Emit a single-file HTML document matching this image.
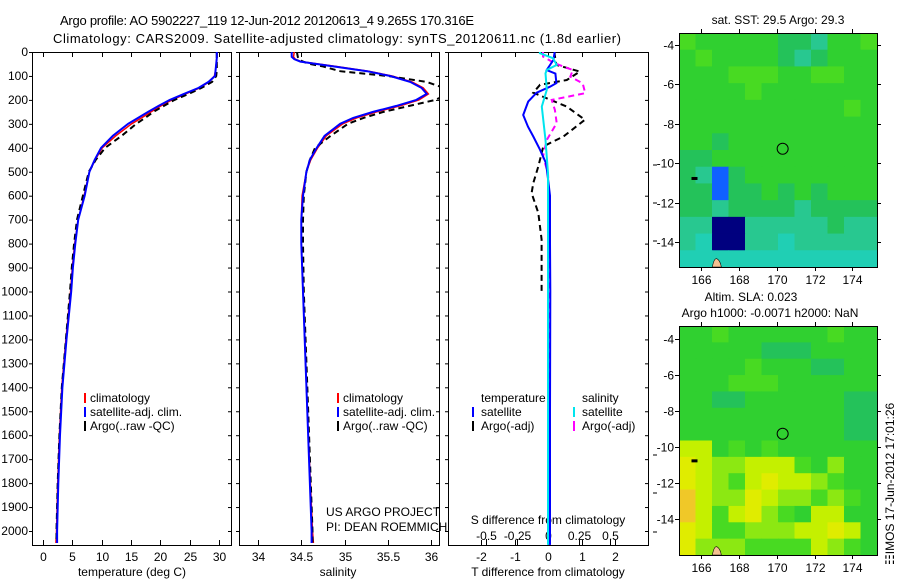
<!DOCTYPE html>
<html><head><meta charset="utf-8"><style>
html,body{margin:0;padding:0;background:#fff;}
svg{display:block;font-family:"Liberation Sans",sans-serif;}
text{font-size:12px;fill:#000;}
</style></head><body>
<svg id="fig" width="900" height="580" viewBox="0 0 900 580">
<text x="60" y="25" style="font-size:13px" textLength="414">Argo profile: AO 5902227_119 12-Jun-2012 20120613_4 9.265S 170.316E</text>
<text x="53" y="43" style="font-size:13px" textLength="568">Climatology: CARS2009. Satellite-adjusted climatology: synTS_20120611.nc (1.8d earlier)</text>
<text x="778" y="24" text-anchor="middle">sat. SST: 29.5 Argo: 29.3</text>
<text x="751" y="301" text-anchor="middle">Altim. SLA: 0.023</text>
<text x="770" y="317" text-anchor="middle">Argo h1000: -0.0071 h2000: NaN</text>
<text transform="translate(894,565) rotate(-90)">&#9783;IMOS 17-Jun-2012 17:01:26</text>
<text x="326" y="516">US ARGO PROJECT</text>
<text x="326" y="531">PI: DEAN ROEMMICH</text>
</svg>
<script>
// ---- data ----
const depthTicks = [0,100,200,300,400,500,600,700,800,900,1000,1100,1200,1300,1400,1500,1600,1700,1800,1900,2000];
const tDepths = [0,25,50,75,100,125,150,175,200,225,250,275,300,350,400,450,500,600,700,800,900,1000,1200,1400,1600,1800,2000,2050];
const tempSat  = [29.6,29.6,29.5,29.4,29.3,28.2,26.5,24.0,21.6,19.7,17.9,16.2,14.5,11.9,9.9,8.8,7.9,7.1,6.0,5.5,5.1,4.8,4.0,3.3,2.9,2.6,2.4,2.4];
const tempClim = [29.6,29.6,29.5,29.4,29.2,28.3,26.7,24.3,22.0,20.1,18.4,16.8,15.1,12.4,10.1,8.9,7.9,7.0,6.0,5.4,5.0,4.7,3.9,3.2,2.8,2.5,2.3,2.2];
const tempArgo = [29.6,29.6,29.6,29.6,29.5,28.8,27.0,24.8,22.4,20.6,18.8,17.4,15.9,13.4,10.6,9.0,7.8,6.8,5.8,5.3,4.9,4.6,3.9,3.2,2.8,2.5,2.3,2.3];
const sDepths = [0,20,30,40,50,60,80,100,125,150,175,200,225,250,275,300,350,400,450,500,600,700,800,1000,1500,2000,2050];
const salSat  = [34.39,34.39,34.42,34.49,34.68,34.87,35.26,35.53,35.76,35.89,35.95,35.83,35.6,35.33,35.1,34.95,34.77,34.68,34.6,34.56,34.52,34.5,34.5,34.52,34.57,34.62,34.62];
const salClim = [34.42,34.41,34.43,34.5,34.7,34.9,35.28,35.55,35.78,35.91,35.97,35.86,35.64,35.37,35.14,34.98,34.79,34.69,34.61,34.56,34.51,34.5,34.5,34.52,34.57,34.63,34.64];
const salArgo = [34.45,34.46,34.47,34.52,34.6,34.75,34.95,35.5,35.95,36.15,36.2,36.05,35.75,35.45,35.22,35.04,34.84,34.66,34.6,34.56,34.53,34.52,34.52,34.53,34.58,34.63,34.63];
const dTSatDepths = [0,33,75,90,130,145,170,207,263,311,353,408,464,505,600,800,1000,1500,2058];
const dTSat = [0.2,0.16,-0.04,0.22,0.25,0.06,-0.34,-0.59,-0.74,-0.6,-0.44,-0.24,-0.06,-0.02,0.06,0.06,0.07,0.06,0.06];
const dTArgoDepths = [0,12,54,82,117,137,170,228,283,353,394,478,547,589,672,783,1005];
const dTArgo = [0.2,0.2,0.25,0.95,0.56,-0.24,-0.44,0.56,1.1,0.46,-0.14,-0.29,-0.44,-0.49,-0.29,-0.19,-0.19];
const dSSatDepths = [0,5,26,54,75,89,158,228,367,506,1000,2058];
const dSSat = [-0.065,-0.065,0.04,0.07,-0.01,-0.02,-0.01,-0.05,-0.02,0.0,0.0,0.0];
const dSArgoDepths = [0,19,47,75,103,131,172,200,242,297,367,436,506,700,1000,2058];
const dSArgo = [-0.04,-0.04,0.056,0.2,0.18,0.28,0.3,0.03,0.056,0.07,-0.01,-0.04,0.0,0.016,0.016,0.016];
const tempTicks = [0,5,10,15,20,25,30];
const salTicks = [34,34.5,35,35.5,36];
const salTickLabels = ["34","34.5","35","35.5","36"];
const dTTicks = [-2,-1,0,1,2];
const dSTicks = [-0.5,-0.25,0,0.25,0.5];
const dSTickLabels = ["-0.5","-0.25","0","0.25","0.5"];
const lonTicks = [166,168,170,172,174];
const latTicks = [-4,-6,-8,-10,-12,-14];
const sstGrid = ["766666554667","676666545666","666777667766","666676666666","666666666676","666666666666","665666666666","556666666666","541566666666","551556565666","554555545555","440044444544","430044344444","333333333333"];
const slaGrid = ["667666666766","666665556666","666676665566","666777666666","665566666655","666666666655","666666666655","996767666666","a98899976866","a9879a998766","b988a9887876","b979a8769966","a97788899a96","a88877779876"];
const argoLon = 170.316, argoLat = -9.265;

// ---- helpers ----
const NS="http://www.w3.org/2000/svg";
const svg=document.getElementById('fig');
function mk(tag,attrs,parent){const e=document.createElementNS(NS,tag);for(const k in attrs)e.setAttribute(k,attrs[k]);(parent||svg).appendChild(e);return e;}
const TOP=52,BOT=545;
const yD=d=>TOP+d*0.2395;
const xT=t=>43+t*5.87;
const xS=s=>258+(s-34)*86.5;
const xdT=t=>548+t*33.5;
const xdS=s=>548+s*124;
function line(xs,ds,fx,col,w,dash,clip,name){
  let p=ds.map((d,i)=>(i?'L':'M')+fx(xs[i]).toFixed(1)+','+yD(d).toFixed(1)).join('');
  const e=mk('path',{d:p,fill:'none',stroke:col,'stroke-width':w,'clip-path':'url(#'+clip+')'});
  if(dash)e.setAttribute('stroke-dasharray',dash);
  
  
}
const defs=mk('defs',{});
function panel(id,x0,x1,y0,y1){
  const cp=mk('clipPath',{id:id},defs);mk('rect',{x:x0,y:y0,width:x1-x0,height:y1-y0},cp);
}
panel('c1',32,231,TOP,BOT);panel('c2',239,439,TOP,BOT);panel('c3',448,648,TOP,BOT);

// ---- profile panels ----
const panels=[[32,231,'temperature-panel'],[239,439,'salinity-panel'],[448,648,'difference-panel']];
panels.forEach(p=>{
  const r=mk('rect',{x:p[0]+0.5,y:TOP+0.5,width:p[1]-p[0],height:BOT-TOP,fill:'none',stroke:'#000','stroke-width':1});
  
  
  depthTicks.forEach(d=>{const y=yD(d)+0.5;
    mk('line',{x1:p[0]-3,x2:p[0]+1,y1:y,y2:y,stroke:'#000'});
    mk('line',{x1:p[1]-3,x2:p[1]+1,y1:y,y2:y,stroke:'#000'});});
});
depthTicks.forEach(d=>{const t=mk('text',{x:28,y:yD(d)+4,'text-anchor':'end'});t.textContent=d;
  
  });
function xticks(vals,labels,fx,ly,name,inBottom){
  vals.forEach((v,i)=>{const x=Math.round(fx(v))+0.5;
    mk('line',{x1:x,x2:x,y1:TOP,y2:TOP+5,stroke:'#000'});
    mk('line',{x1:x,x2:x,y1:BOT-5,y2:BOT,stroke:'#000'});
    const t=mk('text',{x:x,y:ly,'text-anchor':'middle'});t.textContent=labels[i];
    
    });
}
xticks(tempTicks,tempTicks,xT,561,'temperature-tick-label');
xticks(salTicks,salTickLabels,xS,561,'salinity-tick-label');
xticks(dTTicks,dTTicks,xdT,561,'t-diff-tick-label');
dSTicks.forEach((v,i)=>{const x=Math.round(xdS(v))+0.5;
  mk('line',{x1:x,x2:x,y1:BOT-6,y2:BOT,stroke:'#000'});
  const t=mk('text',{x:x,y:540,'text-anchor':'middle'});t.textContent=dSTickLabels[i];
  
  });
[165,203,241,455,493,532].forEach(y=>mk('line',{x1:653,x2:657,y1:y,y2:y,stroke:'#000'}));
function label(x,y,s,name,anchor){const t=mk('text',{x:x,y:y,'text-anchor':anchor||'middle'});t.textContent=s;
  
  return t;}
label(132,576,'temperature (deg C)','temperature-axis-title');
label(338,576,'salinity','salinity-axis-title');
label(548,576,'T difference from climatology','t-diff-axis-title');
label(548,524,'S difference from climatology','s-diff-axis-title');

// series
line(tempClim,tDepths,xT,'#ff0000',1.5,null,'c1','temp-climatology-line');
line(tempArgo,tDepths,xT,'#000',2,'6,4','c1','temp-argo-line');
line(tempSat,tDepths,xT,'#0000ff',2,null,'c1','temp-satellite-line');
line(salClim,sDepths,xS,'#ff0000',1.5,null,'c2','sal-climatology-line');
line(salArgo,sDepths,xS,'#000',2,'6,4','c2','sal-argo-line');
line(salSat,sDepths,xS,'#0000ff',2,null,'c2','sal-satellite-line');
line(dTArgo,dTArgoDepths,xdT,'#000',2,'6,4','c3','t-diff-argo-line');
line(dSArgo,dSArgoDepths,xdS,'#ff00ff',2,'6,4','c3','s-diff-argo-line');
line(dTSat,dTSatDepths,xdT,'#0000ff',2,null,'c3','t-diff-satellite-line');
line(dSSat,dSSatDepths,xdS,'#00e5ee',2,null,'c3','s-diff-satellite-line');

// legends
function leg(mx,tx,y,col,s,name){
  if(col)mk('line',{x1:mx,x2:mx,y1:y-9,y2:y+1,stroke:col,'stroke-width':2});
  const t=mk('text',{x:tx,y:y});t.textContent=s;
  
  }
[[85,90],[338,343]].forEach(([m,t],i)=>{
  leg(m,t,402,'#ff0000','climatology','legend-climatology');
  leg(m,t,416,'#0000ff','satellite-adj. clim.','legend-satellite-adj');
  leg(m,t,430,'#000','Argo(..raw -QC)','legend-argo');});
leg(0,481,402,null,'temperature','legend-temperature-header');
leg(0,582,402,null,'salinity','legend-salinity-header');
leg(473,481,416,'#0000ff','satellite','legend-t-satellite');
leg(473,481,430,'#000','Argo(-adj)','legend-t-argo');
leg(574,582,416,'#00e5ee','satellite','legend-s-satellite');
leg(574,582,430,'#ff00ff','Argo(-adj)','legend-s-argo');

// ---- maps ----
const pal={'0':'#00007f','1':'#1060ff','2':'#10c0e0','3':'#20cfb4','4':'#28c890','5':'#24c25a','6':'#30d030','7':'#48da22','8':'#8ce812','9':'#c4f000','a':'#e0ec00','b':'#f0c828'};
function map(grid,x0,x1,y0,y1,lat0,latPx,name){
  const lon0=164.84,lonPx=(x1-x0)/(175.3-164.84);
  const fx=l=>x0+(l-lon0)*lonPx, fy=l=>y0+(lat0-l)*latPx;
  const cw=(x1-x0)/grid[0].length,ch=(y1-y0)/grid.length;
  const g=mk('g',{});
  
  grid.forEach((row,r)=>[...row].forEach((v,c)=>{
    const cell=mk('rect',{x:(x0+c*cw).toFixed(2),y:(y0+r*ch).toFixed(2),width:(cw+0.6).toFixed(2),height:(ch+0.6).toFixed(2),fill:pal[v]},g);
    
    }));
  mk('path',{d:`M${fx(166.6)},${y1} q2,-10 5,-8 q3,2 4,8z`,fill:'#f4c090',stroke:'#000','stroke-width':0.6},g);
  mk('rect',{x:fx(165.5),y:fy(-10.8)-2,width:6,height:3,fill:'#000'},g);
  const c=mk('circle',{cx:fx(argoLon),cy:fy(argoLat),r:5.5,fill:'none',stroke:'#000','stroke-width':1},g);
  
  
  mk('rect',{x:x0+0.5,y:y0+0.5,width:x1-x0,height:y1-y0,fill:'none',stroke:'#000'});
  lonTicks.forEach(l=>{const x=Math.round(fx(l))+0.5;
    mk('line',{x1:x,x2:x,y1:y1,y2:y1+4,stroke:'#000'});mk('line',{x1:x,x2:x,y1:y0-4,y2:y0,stroke:'#000'});
    const t=mk('text',{x:x,y:y1+17,'text-anchor':'middle'});t.textContent=l;
    
    });
  latTicks.forEach(l=>{const y=Math.round(fy(l))+0.5;
    mk('line',{x1:x0-4,x2:x0,y1:y,y2:y,stroke:'#000'});mk('line',{x1:x1,x2:x1+4,y1:y,y2:y,stroke:'#000'});
    const t=mk('text',{x:x0-5,y:y+4,'text-anchor':'end'});t.textContent=l;
    
    });
}
map(sstGrid,679,877,33,267,-3.39,19.7,'sst-map');
map(slaGrid,679,877,326,555,-3.28,18.0,'sla-map');
</script>
</body></html>
